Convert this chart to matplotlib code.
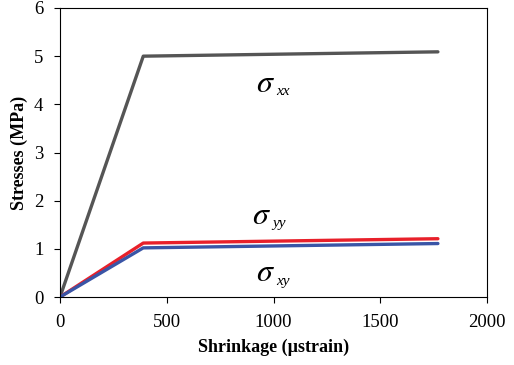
import matplotlib
matplotlib.use('Agg')
import matplotlib.pyplot as plt

plt.rcParams['font.family'] = 'Liberation Serif'
plt.rcParams['mathtext.fontset'] = 'stix'

# shrinkage (microstrain) and stresses (MPa)
shrink = [0, 390, 1770]
sxx = [0, 5.0, 5.09]
syy = [0, 1.12, 1.21]
sxy = [0, 1.02, 1.11]

# label text and anchor (x, y) for each stress curve
labels = ['xx', 'yy', 'xy']
label_pos = [(920, 4.42), (900, 1.68), (920, 0.48)]

fig = plt.figure(figsize=(5.14, 3.65), dpi=100)
ax = fig.add_axes([60/514, 68/365, 427/514, 289/365])

ax.plot(shrink, sxx, color='#555555', lw=2.4, solid_capstyle='round')
ax.plot(shrink, syy, color='#e8202a', lw=2.4, solid_capstyle='round')
ax.plot(shrink, sxy, color='#3a55a6', lw=2.4, solid_capstyle='round')

for sub, (lx, ly) in zip(labels, label_pos):
    ax.text(lx, ly, r'$\sigma$', fontsize=23, va='center')
    ax.annotate(sub, (lx, ly), xytext=(14.5, -8), textcoords='offset points',
                fontsize=11, style='italic', va='baseline')

ax.set_xlim(0, 2000)
ax.set_ylim(0, 6)
ax.set_xticks([0, 500, 1000, 1500, 2000])
ax.set_yticks([0, 1, 2, 3, 4, 5, 6])
ax.tick_params(labelsize=13.5, direction='out', length=4, width=0.8, pad=8)
ax.set_xlabel('Shrinkage (\u00b5strain)', fontsize=13, fontweight='bold', labelpad=6)
ax.set_ylabel('Stresses (MPa)', fontsize=13, fontweight='bold', labelpad=4)
for s in ax.spines.values():
    s.set_linewidth(0.8)

fig.savefig('out.png', dpi=100)
